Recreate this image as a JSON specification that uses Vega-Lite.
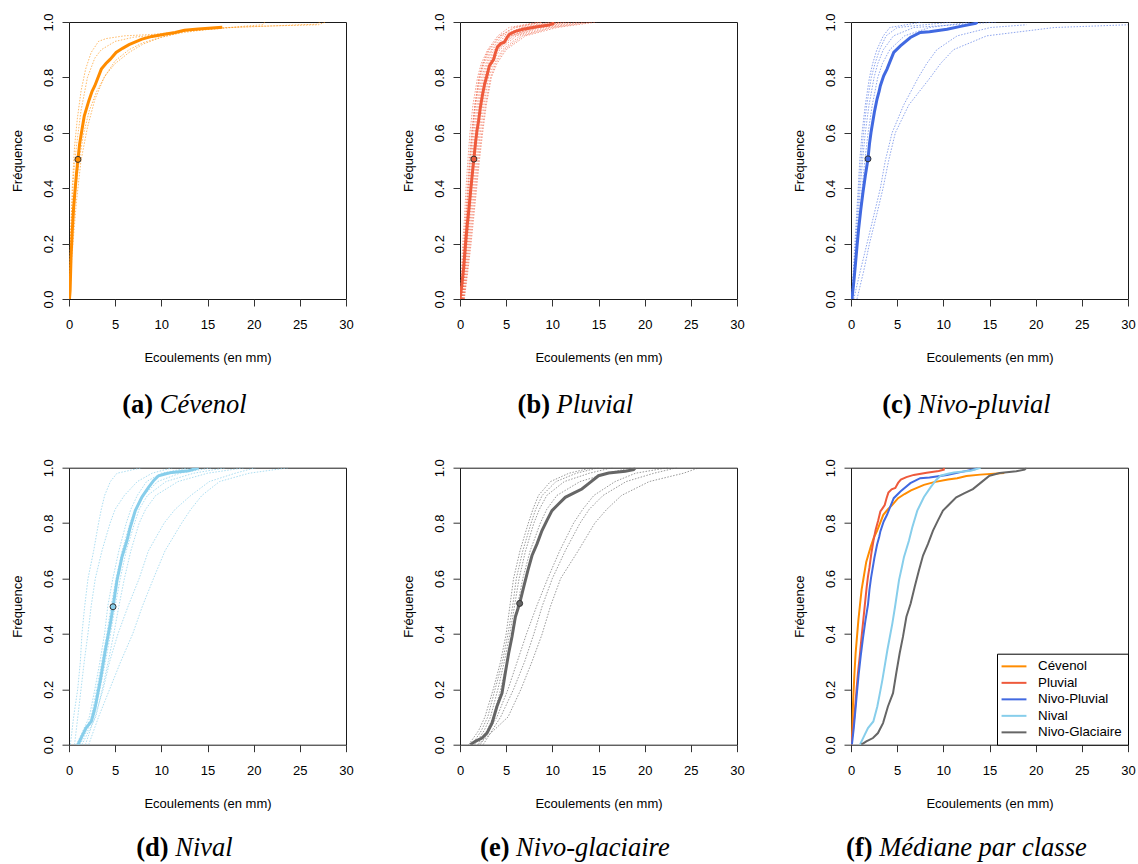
{
"$schema":"https://vega.github.io/schema/vega-lite/v6.json",
"background":"white",
"autosize":{"type":"pad"},
"padding":{"left":10,"top":12,"right":5,"bottom":5},
"config":{
 "font":"Liberation Sans",
 "view":{"stroke":"#1a1a1a","strokeWidth":1},
 "axis":{"domain":false,"grid":false,"ticks":true,"tickColor":"#333333","tickSize":7,"tickWidth":1,"labelFont":"Liberation Sans","labelFontSize":13,"labelColor":"black","titleFont":"Liberation Sans","titleFontSize":13,"titleFontWeight":"normal","titleColor":"black","labelFlush":false,"labelOverlap":false},
 "axisX":{"labelPadding":12.5,"titlePadding":20},
 "axisY":{"labelAngle":-90,"labelAlign":"center","labelBaseline":"alphabetic","labelPadding":10,"titlePadding":18}
},
"datasets":{
"caps":[
{"p":"a","tag":"(a)","name":"Cévenol"},{"p":"b","tag":"(b)","name":"Pluvial"},{"p":"c","tag":"(c)","name":"Nivo-pluvial"},
{"p":"d","tag":"(d)","name":"Nival"},{"p":"e","tag":"(e)","name":"Nivo-glaciaire"},{"p":"f","tag":"(f)","name":"Médiane par classe"}],
"pts":[
{"cls":"Cévenol","x":0.97,"y":0.504},{"cls":"Pluvial","x":1.5,"y":0.505},{"cls":"Nivo-Pluvial","x":1.84,"y":0.506},{"cls":"Nival","x":4.77,"y":0.498},{"cls":"Nivo-Glaciaire","x":6.46,"y":0.51}],
"med":[
{"cls":"Cévenol","x":0.05,"y":0},{"cls":"Cévenol","x":0.12,"y":0.03},{"cls":"Cévenol","x":0.22,"y":0.15},{"cls":"Cévenol","x":0.36,"y":0.25},{"cls":"Cévenol","x":0.5,"y":0.33},{"cls":"Cévenol","x":0.65,"y":0.39},{"cls":"Cévenol","x":0.8,"y":0.45},{"cls":"Cévenol","x":0.97,"y":0.504},{"cls":"Cévenol","x":1.15,"y":0.56},{"cls":"Cévenol","x":1.35,"y":0.6},{"cls":"Cévenol","x":1.65,"y":0.66},{"cls":"Cévenol","x":2.15,"y":0.716},{"cls":"Cévenol","x":2.5,"y":0.75},{"cls":"Cévenol","x":2.8,"y":0.77},{"cls":"Cévenol","x":3.5,"y":0.83},{"cls":"Cévenol","x":4.0,"y":0.85},{"cls":"Cévenol","x":4.45,"y":0.865},{"cls":"Cévenol","x":5.1,"y":0.89},{"cls":"Cévenol","x":5.8,"y":0.905},{"cls":"Cévenol","x":6.5,"y":0.918},{"cls":"Cévenol","x":7.9,"y":0.938},{"cls":"Cévenol","x":9.0,"y":0.948},{"cls":"Cévenol","x":10.5,"y":0.957},{"cls":"Cévenol","x":11.5,"y":0.962},{"cls":"Cévenol","x":12.5,"y":0.97},{"cls":"Cévenol","x":14.0,"y":0.975},{"cls":"Cévenol","x":16.6,"y":0.981},
{"cls":"Pluvial","x":0,"y":0},{"cls":"Pluvial","x":0.2,"y":0.05},{"cls":"Pluvial","x":0.4,"y":0.114},{"cls":"Pluvial","x":0.6,"y":0.2},{"cls":"Pluvial","x":0.76,"y":0.26},{"cls":"Pluvial","x":0.95,"y":0.32},{"cls":"Pluvial","x":1.12,"y":0.38},{"cls":"Pluvial","x":1.3,"y":0.44},{"cls":"Pluvial","x":1.5,"y":0.505},{"cls":"Pluvial","x":1.7,"y":0.57},{"cls":"Pluvial","x":1.84,"y":0.608},{"cls":"Pluvial","x":2.0,"y":0.64},{"cls":"Pluvial","x":2.2,"y":0.69},{"cls":"Pluvial","x":2.45,"y":0.74},{"cls":"Pluvial","x":2.67,"y":0.776},{"cls":"Pluvial","x":2.95,"y":0.81},{"cls":"Pluvial","x":3.18,"y":0.842},{"cls":"Pluvial","x":3.45,"y":0.855},{"cls":"Pluvial","x":3.65,"y":0.865},{"cls":"Pluvial","x":3.85,"y":0.89},{"cls":"Pluvial","x":4.05,"y":0.91},{"cls":"Pluvial","x":4.4,"y":0.922},{"cls":"Pluvial","x":4.8,"y":0.927},{"cls":"Pluvial","x":5.1,"y":0.945},{"cls":"Pluvial","x":5.4,"y":0.957},{"cls":"Pluvial","x":6.0,"y":0.966},{"cls":"Pluvial","x":6.8,"y":0.974},{"cls":"Pluvial","x":8.2,"y":0.982},{"cls":"Pluvial","x":9.5,"y":0.988},{"cls":"Pluvial","x":10.05,"y":0.993},{"cls":"Pluvial","x":10.06,"y":1.0},
{"cls":"Nivo-Pluvial","x":0.1,"y":0},{"cls":"Nivo-Pluvial","x":0.3,"y":0.06},{"cls":"Nivo-Pluvial","x":0.47,"y":0.122},{"cls":"Nivo-Pluvial","x":0.65,"y":0.19},{"cls":"Nivo-Pluvial","x":0.83,"y":0.254},{"cls":"Nivo-Pluvial","x":1.05,"y":0.32},{"cls":"Nivo-Pluvial","x":1.3,"y":0.386},{"cls":"Nivo-Pluvial","x":1.55,"y":0.445},{"cls":"Nivo-Pluvial","x":1.84,"y":0.506},{"cls":"Nivo-Pluvial","x":2.0,"y":0.56},{"cls":"Nivo-Pluvial","x":2.17,"y":0.602},{"cls":"Nivo-Pluvial","x":2.53,"y":0.674},{"cls":"Nivo-Pluvial","x":2.82,"y":0.722},{"cls":"Nivo-Pluvial","x":3.05,"y":0.75},{"cls":"Nivo-Pluvial","x":3.18,"y":0.77},{"cls":"Nivo-Pluvial","x":3.54,"y":0.806},{"cls":"Nivo-Pluvial","x":3.9,"y":0.83},{"cls":"Nivo-Pluvial","x":4.2,"y":0.855},{"cls":"Nivo-Pluvial","x":4.63,"y":0.89},{"cls":"Nivo-Pluvial","x":5.35,"y":0.914},{"cls":"Nivo-Pluvial","x":6.43,"y":0.944},{"cls":"Nivo-Pluvial","x":7.5,"y":0.962},{"cls":"Nivo-Pluvial","x":8.5,"y":0.965},{"cls":"Nivo-Pluvial","x":10.4,"y":0.974},{"cls":"Nivo-Pluvial","x":12.0,"y":0.985},{"cls":"Nivo-Pluvial","x":13.5,"y":0.995},{"cls":"Nivo-Pluvial","x":13.7,"y":1.0},
{"cls":"Nival","x":0.97,"y":0},{"cls":"Nival","x":1.4,"y":0.03},{"cls":"Nival","x":1.84,"y":0.06},{"cls":"Nival","x":2.42,"y":0.084},{"cls":"Nival","x":2.85,"y":0.138},{"cls":"Nival","x":3.15,"y":0.19},{"cls":"Nival","x":3.4,"y":0.234},{"cls":"Nival","x":3.94,"y":0.342},{"cls":"Nival","x":4.48,"y":0.438},{"cls":"Nival","x":4.77,"y":0.498},{"cls":"Nival","x":5.2,"y":0.594},{"cls":"Nival","x":5.5,"y":0.64},{"cls":"Nival","x":5.74,"y":0.678},{"cls":"Nival","x":6.28,"y":0.737},{"cls":"Nival","x":6.64,"y":0.785},{"cls":"Nival","x":7.18,"y":0.845},{"cls":"Nival","x":7.9,"y":0.894},{"cls":"Nival","x":8.63,"y":0.93},{"cls":"Nival","x":9.2,"y":0.955},{"cls":"Nival","x":9.7,"y":0.971},{"cls":"Nival","x":10.5,"y":0.978},{"cls":"Nival","x":11.15,"y":0.983},{"cls":"Nival","x":12.96,"y":0.989},{"cls":"Nival","x":14.04,"y":1.0},
{"cls":"Nivo-Glaciaire","x":1.12,"y":0},{"cls":"Nivo-Glaciaire","x":1.66,"y":0.012},{"cls":"Nivo-Glaciaire","x":2.38,"y":0.024},{"cls":"Nivo-Glaciaire","x":2.92,"y":0.042},{"cls":"Nivo-Glaciaire","x":3.47,"y":0.078},{"cls":"Nivo-Glaciaire","x":4.0,"y":0.138},{"cls":"Nivo-Glaciaire","x":4.55,"y":0.186},{"cls":"Nivo-Glaciaire","x":4.9,"y":0.258},{"cls":"Nivo-Glaciaire","x":5.27,"y":0.33},{"cls":"Nivo-Glaciaire","x":5.63,"y":0.39},{"cls":"Nivo-Glaciaire","x":6.0,"y":0.462},{"cls":"Nivo-Glaciaire","x":6.46,"y":0.51},{"cls":"Nivo-Glaciaire","x":6.9,"y":0.57},{"cls":"Nivo-Glaciaire","x":7.36,"y":0.63},{"cls":"Nivo-Glaciaire","x":7.8,"y":0.683},{"cls":"Nivo-Glaciaire","x":8.34,"y":0.725},{"cls":"Nivo-Glaciaire","x":8.88,"y":0.773},{"cls":"Nivo-Glaciaire","x":9.42,"y":0.81},{"cls":"Nivo-Glaciaire","x":9.96,"y":0.845},{"cls":"Nivo-Glaciaire","x":10.7,"y":0.87},{"cls":"Nivo-Glaciaire","x":11.4,"y":0.893},{"cls":"Nivo-Glaciaire","x":12.3,"y":0.908},{"cls":"Nivo-Glaciaire","x":13.2,"y":0.923},{"cls":"Nivo-Glaciaire","x":14.1,"y":0.947},{"cls":"Nivo-Glaciaire","x":15.0,"y":0.971},{"cls":"Nivo-Glaciaire","x":16.1,"y":0.981},{"cls":"Nivo-Glaciaire","x":17.9,"y":0.987},{"cls":"Nivo-Glaciaire","x":18.8,"y":0.993},{"cls":"Nivo-Glaciaire","x":19.0,"y":1.0}
],
"curves":[
{"p":"a","c":1,"x":0,"y":0},{"p":"a","c":1,"x":0.15,"y":0.2},{"p":"a","c":1,"x":0.35,"y":0.4},{"p":"a","c":1,"x":0.6,"y":0.55},{"p":"a","c":1,"x":0.9,"y":0.65},{"p":"a","c":1,"x":1.3,"y":0.75},{"p":"a","c":1,"x":1.8,"y":0.83},{"p":"a","c":1,"x":2.4,"y":0.89},{"p":"a","c":1,"x":3.2,"y":0.93},{"p":"a","c":1,"x":4.0,"y":0.94},{"p":"a","c":1,"x":6,"y":0.95},{"p":"a","c":1,"x":9,"y":0.955},{"p":"a","c":1,"x":12,"y":0.965},{"p":"a","c":1,"x":16,"y":0.975},{"p":"a","c":1,"x":19,"y":0.985},{"p":"a","c":1,"x":21,"y":0.99},{"p":"a","c":1,"x":21.2,"y":1.0},
{"p":"a","c":2,"x":0,"y":0},{"p":"a","c":2,"x":0.2,"y":0.25},{"p":"a","c":2,"x":0.5,"y":0.45},{"p":"a","c":2,"x":0.8,"y":0.55},{"p":"a","c":2,"x":1.3,"y":0.68},{"p":"a","c":2,"x":2,"y":0.8},{"p":"a","c":2,"x":2.8,"y":0.87},{"p":"a","c":2,"x":3.5,"y":0.9},{"p":"a","c":2,"x":5,"y":0.93},{"p":"a","c":2,"x":7,"y":0.945},{"p":"a","c":2,"x":10,"y":0.955},{"p":"a","c":2,"x":13,"y":0.97},{"p":"a","c":2,"x":17,"y":0.98},{"p":"a","c":2,"x":21,"y":0.985},{"p":"a","c":2,"x":27,"y":0.99},{"p":"a","c":2,"x":27.8,"y":1.0},
{"p":"a","c":3,"x":0.05,"y":0},{"p":"a","c":3,"x":0.3,"y":0.2},{"p":"a","c":3,"x":0.7,"y":0.38},{"p":"a","c":3,"x":1.1,"y":0.5},{"p":"a","c":3,"x":1.6,"y":0.6},{"p":"a","c":3,"x":2.2,"y":0.68},{"p":"a","c":3,"x":3,"y":0.75},{"p":"a","c":3,"x":4,"y":0.81},{"p":"a","c":3,"x":5,"y":0.85},{"p":"a","c":3,"x":6.5,"y":0.89},{"p":"a","c":3,"x":8,"y":0.92},{"p":"a","c":3,"x":10,"y":0.945},{"p":"a","c":3,"x":12,"y":0.96},{"p":"a","c":3,"x":16,"y":0.978},{"p":"a","c":3,"x":20,"y":0.983},{"p":"a","c":3,"x":25,"y":0.99},{"p":"a","c":3,"x":26.8,"y":0.992},{"p":"a","c":3,"x":27.2,"y":1.0},
{"p":"a","c":4,"x":0.1,"y":0},{"p":"a","c":4,"x":0.3,"y":0.15},{"p":"a","c":4,"x":0.8,"y":0.35},{"p":"a","c":4,"x":1.3,"y":0.5},{"p":"a","c":4,"x":2,"y":0.62},{"p":"a","c":4,"x":2.8,"y":0.72},{"p":"a","c":4,"x":3.8,"y":0.8},{"p":"a","c":4,"x":5,"y":0.86},{"p":"a","c":4,"x":6.5,"y":0.9},{"p":"a","c":4,"x":8,"y":0.925},{"p":"a","c":4,"x":10,"y":0.945},{"p":"a","c":4,"x":13,"y":0.97},{"p":"a","c":4,"x":16.5,"y":0.98},
{"p":"b","c":1,"x":0,"y":0},{"p":"b","c":1,"x":0.15,"y":0.1},{"p":"b","c":1,"x":0.3,"y":0.2},{"p":"b","c":1,"x":0.5,"y":0.3},{"p":"b","c":1,"x":0.65,"y":0.4},{"p":"b","c":1,"x":0.85,"y":0.5},{"p":"b","c":1,"x":1.08,"y":0.6},{"p":"b","c":1,"x":1.4,"y":0.7},{"p":"b","c":1,"x":1.9,"y":0.8},{"p":"b","c":1,"x":2.3,"y":0.85},{"p":"b","c":1,"x":3.0,"y":0.9},{"p":"b","c":1,"x":4.1,"y":0.95},{"p":"b","c":1,"x":5.3,"y":0.98},{"p":"b","c":1,"x":8.5,"y":1},
{"p":"b","c":2,"x":0.05,"y":0},{"p":"b","c":2,"x":0.23,"y":0.1},{"p":"b","c":2,"x":0.42,"y":0.2},{"p":"b","c":2,"x":0.62,"y":0.3},{"p":"b","c":2,"x":0.8,"y":0.4},{"p":"b","c":2,"x":1.0,"y":0.5},{"p":"b","c":2,"x":1.25,"y":0.6},{"p":"b","c":2,"x":1.6,"y":0.7},{"p":"b","c":2,"x":2.1,"y":0.8},{"p":"b","c":2,"x":2.5,"y":0.85},{"p":"b","c":2,"x":3.2,"y":0.9},{"p":"b","c":2,"x":4.4,"y":0.95},{"p":"b","c":2,"x":6.0,"y":0.98},{"p":"b","c":2,"x":9.0,"y":1},
{"p":"b","c":3,"x":0.1,"y":0},{"p":"b","c":3,"x":0.3,"y":0.1},{"p":"b","c":3,"x":0.5,"y":0.2},{"p":"b","c":3,"x":0.72,"y":0.3},{"p":"b","c":3,"x":0.9,"y":0.4},{"p":"b","c":3,"x":1.12,"y":0.5},{"p":"b","c":3,"x":1.38,"y":0.6},{"p":"b","c":3,"x":1.7,"y":0.7},{"p":"b","c":3,"x":2.2,"y":0.8},{"p":"b","c":3,"x":2.6,"y":0.85},{"p":"b","c":3,"x":3.4,"y":0.9},{"p":"b","c":3,"x":4.6,"y":0.95},{"p":"b","c":3,"x":6.6,"y":0.98},{"p":"b","c":3,"x":9.8,"y":1},
{"p":"b","c":4,"x":0.12,"y":0},{"p":"b","c":4,"x":0.36,"y":0.1},{"p":"b","c":4,"x":0.58,"y":0.2},{"p":"b","c":4,"x":0.8,"y":0.3},{"p":"b","c":4,"x":1.0,"y":0.4},{"p":"b","c":4,"x":1.25,"y":0.5},{"p":"b","c":4,"x":1.5,"y":0.6},{"p":"b","c":4,"x":1.85,"y":0.7},{"p":"b","c":4,"x":2.35,"y":0.8},{"p":"b","c":4,"x":2.8,"y":0.85},{"p":"b","c":4,"x":3.5,"y":0.9},{"p":"b","c":4,"x":4.9,"y":0.95},{"p":"b","c":4,"x":7.0,"y":0.98},{"p":"b","c":4,"x":10.2,"y":1},
{"p":"b","c":5,"x":0.2,"y":0},{"p":"b","c":5,"x":0.4,"y":0.1},{"p":"b","c":5,"x":0.65,"y":0.2},{"p":"b","c":5,"x":0.9,"y":0.3},{"p":"b","c":5,"x":1.1,"y":0.4},{"p":"b","c":5,"x":1.35,"y":0.5},{"p":"b","c":5,"x":1.65,"y":0.6},{"p":"b","c":5,"x":1.98,"y":0.7},{"p":"b","c":5,"x":2.5,"y":0.8},{"p":"b","c":5,"x":2.95,"y":0.85},{"p":"b","c":5,"x":3.7,"y":0.9},{"p":"b","c":5,"x":5.2,"y":0.95},{"p":"b","c":5,"x":7.5,"y":0.98},{"p":"b","c":5,"x":10.8,"y":1},
{"p":"b","c":6,"x":0.22,"y":0},{"p":"b","c":6,"x":0.48,"y":0.1},{"p":"b","c":6,"x":0.72,"y":0.2},{"p":"b","c":6,"x":0.98,"y":0.3},{"p":"b","c":6,"x":1.2,"y":0.4},{"p":"b","c":6,"x":1.48,"y":0.5},{"p":"b","c":6,"x":1.78,"y":0.6},{"p":"b","c":6,"x":2.1,"y":0.7},{"p":"b","c":6,"x":2.65,"y":0.8},{"p":"b","c":6,"x":3.1,"y":0.85},{"p":"b","c":6,"x":3.9,"y":0.9},{"p":"b","c":6,"x":5.5,"y":0.95},{"p":"b","c":6,"x":8.0,"y":0.98},{"p":"b","c":6,"x":11.5,"y":1},
{"p":"b","c":7,"x":0.28,"y":0},{"p":"b","c":7,"x":0.55,"y":0.1},{"p":"b","c":7,"x":0.8,"y":0.2},{"p":"b","c":7,"x":1.05,"y":0.3},{"p":"b","c":7,"x":1.32,"y":0.4},{"p":"b","c":7,"x":1.6,"y":0.5},{"p":"b","c":7,"x":1.9,"y":0.6},{"p":"b","c":7,"x":2.25,"y":0.7},{"p":"b","c":7,"x":2.8,"y":0.8},{"p":"b","c":7,"x":3.3,"y":0.85},{"p":"b","c":7,"x":4.1,"y":0.9},{"p":"b","c":7,"x":5.8,"y":0.95},{"p":"b","c":7,"x":8.5,"y":0.98},{"p":"b","c":7,"x":12.0,"y":1},
{"p":"b","c":8,"x":0.33,"y":0},{"p":"b","c":8,"x":0.62,"y":0.1},{"p":"b","c":8,"x":0.9,"y":0.2},{"p":"b","c":8,"x":1.15,"y":0.3},{"p":"b","c":8,"x":1.45,"y":0.4},{"p":"b","c":8,"x":1.75,"y":0.5},{"p":"b","c":8,"x":2.05,"y":0.6},{"p":"b","c":8,"x":2.45,"y":0.7},{"p":"b","c":8,"x":2.95,"y":0.8},{"p":"b","c":8,"x":3.5,"y":0.85},{"p":"b","c":8,"x":4.3,"y":0.9},{"p":"b","c":8,"x":6.1,"y":0.95},{"p":"b","c":8,"x":9.0,"y":0.98},{"p":"b","c":8,"x":12.8,"y":1},
{"p":"b","c":9,"x":0.38,"y":0},{"p":"b","c":9,"x":0.7,"y":0.1},{"p":"b","c":9,"x":1.0,"y":0.2},{"p":"b","c":9,"x":1.28,"y":0.3},{"p":"b","c":9,"x":1.58,"y":0.4},{"p":"b","c":9,"x":1.88,"y":0.5},{"p":"b","c":9,"x":2.2,"y":0.6},{"p":"b","c":9,"x":2.6,"y":0.7},{"p":"b","c":9,"x":3.1,"y":0.8},{"p":"b","c":9,"x":3.7,"y":0.85},{"p":"b","c":9,"x":4.6,"y":0.9},{"p":"b","c":9,"x":6.5,"y":0.95},{"p":"b","c":9,"x":9.6,"y":0.98},{"p":"b","c":9,"x":13.5,"y":1},
{"p":"b","c":10,"x":0.42,"y":0},{"p":"b","c":10,"x":0.78,"y":0.1},{"p":"b","c":10,"x":1.1,"y":0.2},{"p":"b","c":10,"x":1.4,"y":0.3},{"p":"b","c":10,"x":1.7,"y":0.4},{"p":"b","c":10,"x":2.0,"y":0.5},{"p":"b","c":10,"x":2.35,"y":0.6},{"p":"b","c":10,"x":2.75,"y":0.7},{"p":"b","c":10,"x":3.3,"y":0.8},{"p":"b","c":10,"x":3.85,"y":0.85},{"p":"b","c":10,"x":4.8,"y":0.9},{"p":"b","c":10,"x":6.8,"y":0.95},{"p":"b","c":10,"x":10.0,"y":0.98},{"p":"b","c":10,"x":14.2,"y":1},
{"p":"b","c":11,"x":0.47,"y":0},{"p":"b","c":11,"x":0.85,"y":0.1},{"p":"b","c":11,"x":1.2,"y":0.2},{"p":"b","c":11,"x":1.5,"y":0.3},{"p":"b","c":11,"x":1.8,"y":0.4},{"p":"b","c":11,"x":2.1,"y":0.5},{"p":"b","c":11,"x":2.45,"y":0.6},{"p":"b","c":11,"x":2.85,"y":0.7},{"p":"b","c":11,"x":3.4,"y":0.8},{"p":"b","c":11,"x":4.0,"y":0.85},{"p":"b","c":11,"x":5.0,"y":0.9},{"p":"b","c":11,"x":7.1,"y":0.95},{"p":"b","c":11,"x":10.5,"y":0.98},{"p":"b","c":11,"x":14.8,"y":1},
{"p":"b","c":12,"x":0.08,"y":0},{"p":"b","c":12,"x":0.26,"y":0.1},{"p":"b","c":12,"x":0.45,"y":0.2},{"p":"b","c":12,"x":0.68,"y":0.3},{"p":"b","c":12,"x":0.88,"y":0.4},{"p":"b","c":12,"x":1.08,"y":0.5},{"p":"b","c":12,"x":1.32,"y":0.6},{"p":"b","c":12,"x":1.62,"y":0.7},{"p":"b","c":12,"x":2.05,"y":0.8},{"p":"b","c":12,"x":2.45,"y":0.85},{"p":"b","c":12,"x":3.1,"y":0.9},{"p":"b","c":12,"x":4.3,"y":0.95},{"p":"b","c":12,"x":5.8,"y":0.98},{"p":"b","c":12,"x":8.8,"y":1},
{"p":"b","c":13,"x":0.25,"y":0},{"p":"b","c":13,"x":0.5,"y":0.1},{"p":"b","c":13,"x":0.75,"y":0.2},{"p":"b","c":13,"x":1.0,"y":0.3},{"p":"b","c":13,"x":1.25,"y":0.4},{"p":"b","c":13,"x":1.55,"y":0.5},{"p":"b","c":13,"x":1.85,"y":0.6},{"p":"b","c":13,"x":2.2,"y":0.7},{"p":"b","c":13,"x":2.7,"y":0.8},{"p":"b","c":13,"x":3.2,"y":0.85},{"p":"b","c":13,"x":4.0,"y":0.9},{"p":"b","c":13,"x":5.6,"y":0.95},{"p":"b","c":13,"x":8.2,"y":0.98},{"p":"b","c":13,"x":11.0,"y":1},
{"p":"c","c":1,"x":0.05,"y":0},{"p":"c","c":1,"x":0.25,"y":0.1},{"p":"c","c":1,"x":0.42,"y":0.2},{"p":"c","c":1,"x":0.6,"y":0.3},{"p":"c","c":1,"x":0.78,"y":0.4},{"p":"c","c":1,"x":0.95,"y":0.5},{"p":"c","c":1,"x":1.2,"y":0.6},{"p":"c","c":1,"x":1.55,"y":0.7},{"p":"c","c":1,"x":2.0,"y":0.8},{"p":"c","c":1,"x":2.35,"y":0.85},{"p":"c","c":1,"x":2.8,"y":0.9},{"p":"c","c":1,"x":3.5,"y":0.95},{"p":"c","c":1,"x":4.2,"y":0.98},{"p":"c","c":1,"x":7.7,"y":1},
{"p":"c","c":2,"x":0.1,"y":0},{"p":"c","c":2,"x":0.3,"y":0.1},{"p":"c","c":2,"x":0.5,"y":0.2},{"p":"c","c":2,"x":0.7,"y":0.3},{"p":"c","c":2,"x":0.88,"y":0.4},{"p":"c","c":2,"x":1.1,"y":0.5},{"p":"c","c":2,"x":1.35,"y":0.6},{"p":"c","c":2,"x":1.7,"y":0.7},{"p":"c","c":2,"x":2.2,"y":0.8},{"p":"c","c":2,"x":2.6,"y":0.85},{"p":"c","c":2,"x":3.1,"y":0.9},{"p":"c","c":2,"x":3.8,"y":0.95},{"p":"c","c":2,"x":5.0,"y":0.98},{"p":"c","c":2,"x":11.0,"y":1},
{"p":"c","c":3,"x":0.15,"y":0},{"p":"c","c":3,"x":0.35,"y":0.1},{"p":"c","c":3,"x":0.58,"y":0.2},{"p":"c","c":3,"x":0.8,"y":0.3},{"p":"c","c":3,"x":1.0,"y":0.4},{"p":"c","c":3,"x":1.25,"y":0.5},{"p":"c","c":3,"x":1.55,"y":0.6},{"p":"c","c":3,"x":1.95,"y":0.7},{"p":"c","c":3,"x":2.5,"y":0.8},{"p":"c","c":3,"x":2.9,"y":0.85},{"p":"c","c":3,"x":3.5,"y":0.9},{"p":"c","c":3,"x":4.6,"y":0.95},{"p":"c","c":3,"x":6.8,"y":0.98},{"p":"c","c":3,"x":15.8,"y":1},
{"p":"c","c":4,"x":0.2,"y":0},{"p":"c","c":4,"x":0.45,"y":0.1},{"p":"c","c":4,"x":0.7,"y":0.2},{"p":"c","c":4,"x":0.95,"y":0.3},{"p":"c","c":4,"x":1.2,"y":0.4},{"p":"c","c":4,"x":1.5,"y":0.5},{"p":"c","c":4,"x":1.85,"y":0.6},{"p":"c","c":4,"x":2.3,"y":0.7},{"p":"c","c":4,"x":2.9,"y":0.8},{"p":"c","c":4,"x":3.4,"y":0.85},{"p":"c","c":4,"x":4.2,"y":0.9},{"p":"c","c":4,"x":5.8,"y":0.95},{"p":"c","c":4,"x":8.5,"y":0.98},{"p":"c","c":4,"x":13.0,"y":1},
{"p":"c","c":5,"x":0.3,"y":0},{"p":"c","c":5,"x":1.0,"y":0.1},{"p":"c","c":5,"x":1.73,"y":0.2},{"p":"c","c":5,"x":2.46,"y":0.3},{"p":"c","c":5,"x":3.18,"y":0.4},{"p":"c","c":5,"x":3.72,"y":0.5},{"p":"c","c":5,"x":4.45,"y":0.6},{"p":"c","c":5,"x":5.7,"y":0.7},{"p":"c","c":5,"x":7.3,"y":0.8},{"p":"c","c":5,"x":8.2,"y":0.85},{"p":"c","c":5,"x":9.3,"y":0.9},{"p":"c","c":5,"x":11.5,"y":0.95},{"p":"c","c":5,"x":15.1,"y":0.98},{"p":"c","c":5,"x":19.0,"y":0.99},
{"p":"c","c":6,"x":0.65,"y":0},{"p":"c","c":6,"x":1.37,"y":0.1},{"p":"c","c":6,"x":2.0,"y":0.2},{"p":"c","c":6,"x":2.75,"y":0.3},{"p":"c","c":6,"x":3.47,"y":0.4},{"p":"c","c":6,"x":4.08,"y":0.5},{"p":"c","c":6,"x":4.8,"y":0.6},{"p":"c","c":6,"x":6.25,"y":0.7},{"p":"c","c":6,"x":8.6,"y":0.8},{"p":"c","c":6,"x":9.7,"y":0.85},{"p":"c","c":6,"x":11.1,"y":0.9},{"p":"c","c":6,"x":14.7,"y":0.95},{"p":"c","c":6,"x":22,"y":0.98},{"p":"c","c":6,"x":30,"y":0.99},
{"p":"d","c":1,"x":0.15,"y":0},{"p":"d","c":1,"x":0.5,"y":0.1},{"p":"d","c":1,"x":0.94,"y":0.2},{"p":"d","c":1,"x":1.23,"y":0.3},{"p":"d","c":1,"x":1.4,"y":0.4},{"p":"d","c":1,"x":1.7,"y":0.5},{"p":"d","c":1,"x":2.06,"y":0.6},{"p":"d","c":1,"x":2.67,"y":0.7},{"p":"d","c":1,"x":3.2,"y":0.8},{"p":"d","c":1,"x":3.5,"y":0.85},{"p":"d","c":1,"x":3.86,"y":0.9},{"p":"d","c":1,"x":4.48,"y":0.95},{"p":"d","c":1,"x":5.2,"y":0.98},{"p":"d","c":1,"x":7.9,"y":1},
{"p":"d","c":2,"x":0.6,"y":0},{"p":"d","c":2,"x":0.95,"y":0.1},{"p":"d","c":2,"x":1.3,"y":0.2},{"p":"d","c":2,"x":1.65,"y":0.3},{"p":"d","c":2,"x":2.05,"y":0.4},{"p":"d","c":2,"x":2.4,"y":0.5},{"p":"d","c":2,"x":2.85,"y":0.6},{"p":"d","c":2,"x":3.57,"y":0.7},{"p":"d","c":2,"x":4.45,"y":0.8},{"p":"d","c":2,"x":5.0,"y":0.85},{"p":"d","c":2,"x":6.0,"y":0.9},{"p":"d","c":2,"x":7.4,"y":0.95},{"p":"d","c":2,"x":9.0,"y":0.98},{"p":"d","c":2,"x":11.2,"y":1},
{"p":"d","c":3,"x":0.8,"y":0},{"p":"d","c":3,"x":2.2,"y":0.1},{"p":"d","c":3,"x":2.8,"y":0.2},{"p":"d","c":3,"x":3.35,"y":0.3},{"p":"d","c":3,"x":3.85,"y":0.4},{"p":"d","c":3,"x":4.2,"y":0.5},{"p":"d","c":3,"x":4.75,"y":0.6},{"p":"d","c":3,"x":5.4,"y":0.7},{"p":"d","c":3,"x":6.2,"y":0.8},{"p":"d","c":3,"x":6.7,"y":0.85},{"p":"d","c":3,"x":7.4,"y":0.9},{"p":"d","c":3,"x":8.4,"y":0.95},{"p":"d","c":3,"x":10.0,"y":0.98},{"p":"d","c":3,"x":13.0,"y":1},
{"p":"d","c":4,"x":1.0,"y":0},{"p":"d","c":4,"x":2.4,"y":0.1},{"p":"d","c":4,"x":3.0,"y":0.2},{"p":"d","c":4,"x":3.55,"y":0.3},{"p":"d","c":4,"x":4.1,"y":0.4},{"p":"d","c":4,"x":4.55,"y":0.5},{"p":"d","c":4,"x":5.1,"y":0.6},{"p":"d","c":4,"x":5.75,"y":0.7},{"p":"d","c":4,"x":6.6,"y":0.8},{"p":"d","c":4,"x":7.2,"y":0.85},{"p":"d","c":4,"x":8.1,"y":0.9},{"p":"d","c":4,"x":9.6,"y":0.95},{"p":"d","c":4,"x":12.0,"y":0.98},{"p":"d","c":4,"x":15.5,"y":1},
{"p":"d","c":5,"x":1.2,"y":0},{"p":"d","c":5,"x":2.7,"y":0.1},{"p":"d","c":5,"x":3.35,"y":0.2},{"p":"d","c":5,"x":3.95,"y":0.3},{"p":"d","c":5,"x":4.5,"y":0.4},{"p":"d","c":5,"x":5.0,"y":0.5},{"p":"d","c":5,"x":5.55,"y":0.6},{"p":"d","c":5,"x":6.2,"y":0.7},{"p":"d","c":5,"x":7.1,"y":0.8},{"p":"d","c":5,"x":7.6,"y":0.85},{"p":"d","c":5,"x":8.5,"y":0.9},{"p":"d","c":5,"x":10.5,"y":0.95},{"p":"d","c":5,"x":13.5,"y":0.98},{"p":"d","c":5,"x":17.0,"y":1},
{"p":"d","c":6,"x":1.4,"y":0},{"p":"d","c":6,"x":2.9,"y":0.1},{"p":"d","c":6,"x":3.6,"y":0.2},{"p":"d","c":6,"x":4.25,"y":0.3},{"p":"d","c":6,"x":4.85,"y":0.4},{"p":"d","c":6,"x":5.4,"y":0.5},{"p":"d","c":6,"x":6.0,"y":0.6},{"p":"d","c":6,"x":6.7,"y":0.7},{"p":"d","c":6,"x":7.6,"y":0.8},{"p":"d","c":6,"x":8.3,"y":0.85},{"p":"d","c":6,"x":9.4,"y":0.9},{"p":"d","c":6,"x":11.8,"y":0.95},{"p":"d","c":6,"x":15.0,"y":0.98},{"p":"d","c":6,"x":19.0,"y":1},
{"p":"d","c":7,"x":1.77,"y":0},{"p":"d","c":7,"x":2.8,"y":0.1},{"p":"d","c":7,"x":3.7,"y":0.2},{"p":"d","c":7,"x":4.4,"y":0.3},{"p":"d","c":7,"x":5.3,"y":0.4},{"p":"d","c":7,"x":6.4,"y":0.5},{"p":"d","c":7,"x":7.6,"y":0.6},{"p":"d","c":7,"x":8.6,"y":0.7},{"p":"d","c":7,"x":10.3,"y":0.8},{"p":"d","c":7,"x":11.5,"y":0.85},{"p":"d","c":7,"x":13.2,"y":0.9},{"p":"d","c":7,"x":15.2,"y":0.95},{"p":"d","c":7,"x":18.0,"y":0.98},{"p":"d","c":7,"x":20.2,"y":1},
{"p":"d","c":8,"x":2.13,"y":0},{"p":"d","c":8,"x":3.2,"y":0.1},{"p":"d","c":8,"x":4.4,"y":0.2},{"p":"d","c":8,"x":5.6,"y":0.3},{"p":"d","c":8,"x":6.9,"y":0.4},{"p":"d","c":8,"x":7.95,"y":0.5},{"p":"d","c":8,"x":9.15,"y":0.6},{"p":"d","c":8,"x":10.4,"y":0.7},{"p":"d","c":8,"x":12.2,"y":0.8},{"p":"d","c":8,"x":13.2,"y":0.85},{"p":"d","c":8,"x":14.4,"y":0.9},{"p":"d","c":8,"x":16.3,"y":0.95},{"p":"d","c":8,"x":19.5,"y":0.98},{"p":"d","c":8,"x":23.8,"y":1},
{"p":"e","c":1,"x":0.94,"y":0},{"p":"e","c":1,"x":2.0,"y":0.05},{"p":"e","c":1,"x":2.7,"y":0.1},{"p":"e","c":1,"x":3.6,"y":0.2},{"p":"e","c":1,"x":4.4,"y":0.3},{"p":"e","c":1,"x":5.0,"y":0.4},{"p":"e","c":1,"x":5.4,"y":0.5},{"p":"e","c":1,"x":5.8,"y":0.6},{"p":"e","c":1,"x":6.5,"y":0.7},{"p":"e","c":1,"x":7.4,"y":0.8},{"p":"e","c":1,"x":7.9,"y":0.85},{"p":"e","c":1,"x":8.5,"y":0.9},{"p":"e","c":1,"x":9.8,"y":0.95},{"p":"e","c":1,"x":11.8,"y":0.98},{"p":"e","c":1,"x":14.3,"y":1},
{"p":"e","c":2,"x":1.3,"y":0},{"p":"e","c":2,"x":2.3,"y":0.05},{"p":"e","c":2,"x":3.0,"y":0.1},{"p":"e","c":2,"x":3.8,"y":0.2},{"p":"e","c":2,"x":4.6,"y":0.3},{"p":"e","c":2,"x":5.2,"y":0.4},{"p":"e","c":2,"x":5.7,"y":0.5},{"p":"e","c":2,"x":6.1,"y":0.6},{"p":"e","c":2,"x":6.8,"y":0.7},{"p":"e","c":2,"x":7.7,"y":0.8},{"p":"e","c":2,"x":8.2,"y":0.85},{"p":"e","c":2,"x":8.9,"y":0.9},{"p":"e","c":2,"x":10.4,"y":0.95},{"p":"e","c":2,"x":12.6,"y":0.98},{"p":"e","c":2,"x":15.0,"y":1},
{"p":"e","c":3,"x":1.6,"y":0},{"p":"e","c":3,"x":2.6,"y":0.05},{"p":"e","c":3,"x":3.3,"y":0.1},{"p":"e","c":3,"x":4.1,"y":0.2},{"p":"e","c":3,"x":4.8,"y":0.3},{"p":"e","c":3,"x":5.4,"y":0.4},{"p":"e","c":3,"x":5.9,"y":0.5},{"p":"e","c":3,"x":6.4,"y":0.6},{"p":"e","c":3,"x":7.1,"y":0.7},{"p":"e","c":3,"x":8.0,"y":0.8},{"p":"e","c":3,"x":8.6,"y":0.85},{"p":"e","c":3,"x":9.4,"y":0.9},{"p":"e","c":3,"x":11.3,"y":0.95},{"p":"e","c":3,"x":14.0,"y":0.98},{"p":"e","c":3,"x":16.5,"y":1},
{"p":"e","c":4,"x":1.9,"y":0},{"p":"e","c":4,"x":2.9,"y":0.05},{"p":"e","c":4,"x":3.6,"y":0.1},{"p":"e","c":4,"x":4.4,"y":0.2},{"p":"e","c":4,"x":5.1,"y":0.3},{"p":"e","c":4,"x":5.7,"y":0.4},{"p":"e","c":4,"x":6.2,"y":0.5},{"p":"e","c":4,"x":6.8,"y":0.6},{"p":"e","c":4,"x":7.6,"y":0.7},{"p":"e","c":4,"x":8.7,"y":0.8},{"p":"e","c":4,"x":9.4,"y":0.85},{"p":"e","c":4,"x":10.5,"y":0.9},{"p":"e","c":4,"x":13.0,"y":0.95},{"p":"e","c":4,"x":16.0,"y":0.98},{"p":"e","c":4,"x":18.5,"y":1},
{"p":"e","c":5,"x":2.2,"y":0},{"p":"e","c":5,"x":4.0,"y":0.1},{"p":"e","c":5,"x":5.2,"y":0.2},{"p":"e","c":5,"x":6.2,"y":0.3},{"p":"e","c":5,"x":7.2,"y":0.4},{"p":"e","c":5,"x":8.3,"y":0.5},{"p":"e","c":5,"x":9.5,"y":0.6},{"p":"e","c":5,"x":10.8,"y":0.7},{"p":"e","c":5,"x":12.3,"y":0.8},{"p":"e","c":5,"x":13.3,"y":0.85},{"p":"e","c":5,"x":14.5,"y":0.9},{"p":"e","c":5,"x":16.8,"y":0.95},{"p":"e","c":5,"x":19.0,"y":0.98},{"p":"e","c":5,"x":22.5,"y":1},
{"p":"e","c":6,"x":2.5,"y":0},{"p":"e","c":6,"x":4.4,"y":0.1},{"p":"e","c":6,"x":5.8,"y":0.2},{"p":"e","c":6,"x":7.0,"y":0.3},{"p":"e","c":6,"x":8.0,"y":0.4},{"p":"e","c":6,"x":8.9,"y":0.5},{"p":"e","c":6,"x":10.0,"y":0.6},{"p":"e","c":6,"x":11.4,"y":0.7},{"p":"e","c":6,"x":13.0,"y":0.8},{"p":"e","c":6,"x":14.0,"y":0.85},{"p":"e","c":6,"x":15.5,"y":0.9},{"p":"e","c":6,"x":18.0,"y":0.95},{"p":"e","c":6,"x":21.0,"y":0.98},{"p":"e","c":6,"x":23.5,"y":1},
{"p":"e","c":7,"x":2.0,"y":0},{"p":"e","c":7,"x":5.2,"y":0.1},{"p":"e","c":7,"x":6.6,"y":0.2},{"p":"e","c":7,"x":7.8,"y":0.3},{"p":"e","c":7,"x":8.9,"y":0.4},{"p":"e","c":7,"x":9.8,"y":0.5},{"p":"e","c":7,"x":10.9,"y":0.6},{"p":"e","c":7,"x":12.8,"y":0.7},{"p":"e","c":7,"x":14.6,"y":0.8},{"p":"e","c":7,"x":15.9,"y":0.85},{"p":"e","c":7,"x":17.5,"y":0.9},{"p":"e","c":7,"x":20.5,"y":0.95},{"p":"e","c":7,"x":24.2,"y":0.98},{"p":"e","c":7,"x":25.9,"y":1}
]},
"columns":3,
"spacing":{"row":168.7,"column":114},
"bounds":"flush",
"resolve":{"scale":{"color":"independent"},"legend":{"color":"independent"}},
"concat":[
{"width":277,"height":277,"layer":[
 {"data":{"name":"curves"},"transform":[{"filter":"datum.p == 'a'"}],"mark":{"type":"line","color":"#FF8C00","strokeWidth":1,"strokeDash":[1.5,1.5],"opacity":0.6,"clip":true},
  "encoding":{"x":{"field":"x","type":"quantitative","scale":{"domain":[0,30],"nice":false,"zero":false},"axis":{"values":[0,5,10,15,20,25,30]},"title":"Ecoulements (en mm)"},"y":{"field":"y","type":"quantitative","scale":{"domain":[0,1],"nice":false,"zero":false},"axis":{"values":[0,0.2,0.4,0.6,0.8,1],"format":".1f"},"title":"Fréquence"},"detail":{"field":"c","type":"nominal"},"order":{"field":"y","type":"quantitative"}}},
 {"data":{"name":"med"},"transform":[{"filter":"datum.cls == 'Cévenol'"}],"mark":{"type":"line","color":"#FF8C00","strokeWidth":3,"clip":true},
  "encoding":{"x":{"field":"x","type":"quantitative","title":"Ecoulements (en mm)"},"y":{"field":"y","type":"quantitative","title":"Fréquence"},"order":{"field":"y","type":"quantitative"}}},
 {"data":{"name":"pts"},"transform":[{"filter":"datum.cls == 'Cévenol'"}],"mark":{"type":"circle","size":36,"color":"#FF8C00","opacity":1,"stroke":"#333333","strokeWidth":1},
  "encoding":{"x":{"field":"x","type":"quantitative","title":"Ecoulements (en mm)"},"y":{"field":"y","type":"quantitative","title":"Fréquence"}}},
 {"data":{"name":"caps"},"transform":[{"filter":"datum.p == 'a'"}],"mark":{"type":"text","align":"left","baseline":"alphabetic","font":"Liberation Serif","fontSize":26.5,"fontWeight":"bold","color":"black","dx":-62.2},
  "encoding":{"x":{"datum":12.5,"type":"quantitative","title":"Ecoulements (en mm)"},"y":{"datum":-0.41,"type":"quantitative","title":"Fréquence"},"text":{"field":"tag"}}},
 {"data":{"name":"caps"},"transform":[{"filter":"datum.p == 'a'"}],"mark":{"type":"text","align":"left","baseline":"alphabetic","font":"Liberation Serif","fontSize":26.5,"fontStyle":"italic","color":"black","dx":-24.6},
  "encoding":{"x":{"datum":12.5,"type":"quantitative","title":"Ecoulements (en mm)"},"y":{"datum":-0.41,"type":"quantitative","title":"Fréquence"},"text":{"field":"name"}}}
]},
{"width":277,"height":277,"layer":[
 {"data":{"name":"curves"},"transform":[{"filter":"datum.p == 'b'"}],"mark":{"type":"line","color":"#EE5A3C","strokeWidth":1,"strokeDash":[1.5,1.5],"opacity":0.6,"clip":true},
  "encoding":{"x":{"field":"x","type":"quantitative","scale":{"domain":[0,30],"nice":false,"zero":false},"axis":{"values":[0,5,10,15,20,25,30]},"title":"Ecoulements (en mm)"},"y":{"field":"y","type":"quantitative","scale":{"domain":[0,1],"nice":false,"zero":false},"axis":{"values":[0,0.2,0.4,0.6,0.8,1],"format":".1f"},"title":"Fréquence"},"detail":{"field":"c","type":"nominal"},"order":{"field":"y","type":"quantitative"}}},
 {"data":{"name":"med"},"transform":[{"filter":"datum.cls == 'Pluvial'"}],"mark":{"type":"line","color":"#EE5A3C","strokeWidth":3,"clip":true},
  "encoding":{"x":{"field":"x","type":"quantitative","title":"Ecoulements (en mm)"},"y":{"field":"y","type":"quantitative","title":"Fréquence"},"order":{"field":"y","type":"quantitative"}}},
 {"data":{"name":"pts"},"transform":[{"filter":"datum.cls == 'Pluvial'"}],"mark":{"type":"circle","size":36,"color":"#EE5A3C","opacity":1,"stroke":"#333333","strokeWidth":1},
  "encoding":{"x":{"field":"x","type":"quantitative","title":"Ecoulements (en mm)"},"y":{"field":"y","type":"quantitative","title":"Fréquence"}}},
 {"data":{"name":"caps"},"transform":[{"filter":"datum.p == 'b'"}],"mark":{"type":"text","align":"left","baseline":"alphabetic","font":"Liberation Serif","fontSize":26.5,"fontWeight":"bold","color":"black","dx":-57.8},
  "encoding":{"x":{"datum":12.5,"type":"quantitative","title":"Ecoulements (en mm)"},"y":{"datum":-0.41,"type":"quantitative","title":"Fréquence"},"text":{"field":"tag"}}},
 {"data":{"name":"caps"},"transform":[{"filter":"datum.p == 'b'"}],"mark":{"type":"text","align":"left","baseline":"alphabetic","font":"Liberation Serif","fontSize":26.5,"fontStyle":"italic","color":"black","dx":-18.8},
  "encoding":{"x":{"datum":12.5,"type":"quantitative","title":"Ecoulements (en mm)"},"y":{"datum":-0.41,"type":"quantitative","title":"Fréquence"},"text":{"field":"name"}}}
]},
{"width":277,"height":277,"layer":[
 {"data":{"name":"curves"},"transform":[{"filter":"datum.p == 'c'"}],"mark":{"type":"line","color":"#4169E1","strokeWidth":1,"strokeDash":[1.5,1.5],"opacity":0.6,"clip":true},
  "encoding":{"x":{"field":"x","type":"quantitative","scale":{"domain":[0,30],"nice":false,"zero":false},"axis":{"values":[0,5,10,15,20,25,30]},"title":"Ecoulements (en mm)"},"y":{"field":"y","type":"quantitative","scale":{"domain":[0,1],"nice":false,"zero":false},"axis":{"values":[0,0.2,0.4,0.6,0.8,1],"format":".1f"},"title":"Fréquence"},"detail":{"field":"c","type":"nominal"},"order":{"field":"y","type":"quantitative"}}},
 {"data":{"name":"med"},"transform":[{"filter":"datum.cls == 'Nivo-Pluvial'"}],"mark":{"type":"line","color":"#4169E1","strokeWidth":3,"clip":true},
  "encoding":{"x":{"field":"x","type":"quantitative","title":"Ecoulements (en mm)"},"y":{"field":"y","type":"quantitative","title":"Fréquence"},"order":{"field":"y","type":"quantitative"}}},
 {"data":{"name":"pts"},"transform":[{"filter":"datum.cls == 'Nivo-Pluvial'"}],"mark":{"type":"circle","size":36,"color":"#4169E1","opacity":1,"stroke":"#333333","strokeWidth":1},
  "encoding":{"x":{"field":"x","type":"quantitative","title":"Ecoulements (en mm)"},"y":{"field":"y","type":"quantitative","title":"Fréquence"}}},
 {"data":{"name":"caps"},"transform":[{"filter":"datum.p == 'c'"}],"mark":{"type":"text","align":"left","baseline":"alphabetic","font":"Liberation Serif","fontSize":26.5,"fontWeight":"bold","color":"black","dx":-84.2},
  "encoding":{"x":{"datum":12.5,"type":"quantitative","title":"Ecoulements (en mm)"},"y":{"datum":-0.41,"type":"quantitative","title":"Fréquence"},"text":{"field":"tag"}}},
 {"data":{"name":"caps"},"transform":[{"filter":"datum.p == 'c'"}],"mark":{"type":"text","align":"left","baseline":"alphabetic","font":"Liberation Serif","fontSize":26.5,"fontStyle":"italic","color":"black","dx":-48.2},
  "encoding":{"x":{"datum":12.5,"type":"quantitative","title":"Ecoulements (en mm)"},"y":{"datum":-0.41,"type":"quantitative","title":"Fréquence"},"text":{"field":"name"}}}
]},
{"width":277,"height":277,"layer":[
 {"data":{"name":"curves"},"transform":[{"filter":"datum.p == 'd'"}],"mark":{"type":"line","color":"#87CEEB","strokeWidth":1,"strokeDash":[1.5,1.5],"opacity":0.7,"clip":true},
  "encoding":{"x":{"field":"x","type":"quantitative","scale":{"domain":[0,30],"nice":false,"zero":false},"axis":{"values":[0,5,10,15,20,25,30]},"title":"Ecoulements (en mm)"},"y":{"field":"y","type":"quantitative","scale":{"domain":[0,1],"nice":false,"zero":false},"axis":{"values":[0,0.2,0.4,0.6,0.8,1],"format":".1f"},"title":"Fréquence"},"detail":{"field":"c","type":"nominal"},"order":{"field":"y","type":"quantitative"}}},
 {"data":{"name":"med"},"transform":[{"filter":"datum.cls == 'Nival'"}],"mark":{"type":"line","color":"#87CEEB","strokeWidth":3,"clip":true},
  "encoding":{"x":{"field":"x","type":"quantitative","title":"Ecoulements (en mm)"},"y":{"field":"y","type":"quantitative","title":"Fréquence"},"order":{"field":"y","type":"quantitative"}}},
 {"data":{"name":"pts"},"transform":[{"filter":"datum.cls == 'Nival'"}],"mark":{"type":"circle","size":36,"color":"#87CEEB","opacity":1,"stroke":"#333333","strokeWidth":1},
  "encoding":{"x":{"field":"x","type":"quantitative","title":"Ecoulements (en mm)"},"y":{"field":"y","type":"quantitative","title":"Fréquence"}}},
 {"data":{"name":"caps"},"transform":[{"filter":"datum.p == 'd'"}],"mark":{"type":"text","align":"left","baseline":"alphabetic","font":"Liberation Serif","fontSize":26.5,"fontWeight":"bold","color":"black","dx":-48.2},
  "encoding":{"x":{"datum":12.5,"type":"quantitative","title":"Ecoulements (en mm)"},"y":{"datum":-0.403,"type":"quantitative","title":"Fréquence"},"text":{"field":"tag"}}},
 {"data":{"name":"caps"},"transform":[{"filter":"datum.p == 'd'"}],"mark":{"type":"text","align":"left","baseline":"alphabetic","font":"Liberation Serif","fontSize":26.5,"fontStyle":"italic","color":"black","dx":-9.2},
  "encoding":{"x":{"datum":12.5,"type":"quantitative","title":"Ecoulements (en mm)"},"y":{"datum":-0.403,"type":"quantitative","title":"Fréquence"},"text":{"field":"name"}}}
]},
{"width":277,"height":277,"layer":[
 {"data":{"name":"curves"},"transform":[{"filter":"datum.p == 'e'"}],"mark":{"type":"line","color":"#555555","strokeWidth":1,"strokeDash":[1.5,1.5],"opacity":0.6,"clip":true},
  "encoding":{"x":{"field":"x","type":"quantitative","scale":{"domain":[0,30],"nice":false,"zero":false},"axis":{"values":[0,5,10,15,20,25,30]},"title":"Ecoulements (en mm)"},"y":{"field":"y","type":"quantitative","scale":{"domain":[0,1],"nice":false,"zero":false},"axis":{"values":[0,0.2,0.4,0.6,0.8,1],"format":".1f"},"title":"Fréquence"},"detail":{"field":"c","type":"nominal"},"order":{"field":"y","type":"quantitative"}}},
 {"data":{"name":"med"},"transform":[{"filter":"datum.cls == 'Nivo-Glaciaire'"}],"mark":{"type":"line","color":"#666666","strokeWidth":3,"clip":true},
  "encoding":{"x":{"field":"x","type":"quantitative","title":"Ecoulements (en mm)"},"y":{"field":"y","type":"quantitative","title":"Fréquence"},"order":{"field":"y","type":"quantitative"}}},
 {"data":{"name":"pts"},"transform":[{"filter":"datum.cls == 'Nivo-Glaciaire'"}],"mark":{"type":"circle","size":36,"color":"#666666","opacity":1,"stroke":"#333333","strokeWidth":1},
  "encoding":{"x":{"field":"x","type":"quantitative","title":"Ecoulements (en mm)"},"y":{"field":"y","type":"quantitative","title":"Fréquence"}}},
 {"data":{"name":"caps"},"transform":[{"filter":"datum.p == 'e'"}],"mark":{"type":"text","align":"left","baseline":"alphabetic","font":"Liberation Serif","fontSize":26.5,"fontWeight":"bold","color":"black","dx":-95.3},
  "encoding":{"x":{"datum":12.5,"type":"quantitative","title":"Ecoulements (en mm)"},"y":{"datum":-0.403,"type":"quantitative","title":"Fréquence"},"text":{"field":"tag"}}},
 {"data":{"name":"caps"},"transform":[{"filter":"datum.p == 'e'"}],"mark":{"type":"text","align":"left","baseline":"alphabetic","font":"Liberation Serif","fontSize":26.5,"fontStyle":"italic","color":"black","dx":-59.3},
  "encoding":{"x":{"datum":12.5,"type":"quantitative","title":"Ecoulements (en mm)"},"y":{"datum":-0.403,"type":"quantitative","title":"Fréquence"},"text":{"field":"name"}}}
]},
{"width":277,"height":277,"layer":[
 {"data":{"name":"med"},"mark":{"type":"line","strokeWidth":2,"clip":true},
  "encoding":{"x":{"field":"x","type":"quantitative","scale":{"domain":[0,30],"nice":false,"zero":false},"axis":{"values":[0,5,10,15,20,25,30]},"title":"Ecoulements (en mm)"},"y":{"field":"y","type":"quantitative","scale":{"domain":[0,1],"nice":false,"zero":false},"axis":{"values":[0,0.2,0.4,0.6,0.8,1],"format":".1f"},"title":"Fréquence"},
   "color":{"field":"cls","type":"nominal","scale":{"domain":["Cévenol","Pluvial","Nivo-Pluvial","Nival","Nivo-Glaciaire"],"range":["#FF8C00","#EE5A3C","#4169E1","#87CEEB","#666666"]},
    "legend":{"orient":"bottom-right","offset":0,"title":null,"padding":6,"strokeColor":"black","fillColor":"white","symbolType":"M-2.7,0H5.6","symbolSize":36,"symbolStrokeWidth":2,"labelFont":"Liberation Sans","labelFontSize":13.3,"labelColor":"black","labelOffset":21.8,"rowPadding":2.5,"cornerRadius":0}},
   "order":{"field":"y","type":"quantitative"}}},
 {"data":{"name":"caps"},"transform":[{"filter":"datum.p == 'f'"}],"mark":{"type":"text","align":"left","baseline":"alphabetic","font":"Liberation Serif","fontSize":26.5,"fontWeight":"bold","color":"black","dx":-120.3},
  "encoding":{"x":{"datum":12.5,"type":"quantitative","title":"Ecoulements (en mm)"},"y":{"datum":-0.403,"type":"quantitative","title":"Fréquence"},"text":{"field":"tag"}}},
 {"data":{"name":"caps"},"transform":[{"filter":"datum.p == 'f'"}],"mark":{"type":"text","align":"left","baseline":"alphabetic","font":"Liberation Serif","fontSize":26.5,"fontStyle":"italic","color":"black","dx":-87.2},
  "encoding":{"x":{"datum":12.5,"type":"quantitative","title":"Ecoulements (en mm)"},"y":{"datum":-0.403,"type":"quantitative","title":"Fréquence"},"text":{"field":"name"}}}
]}
]
}
